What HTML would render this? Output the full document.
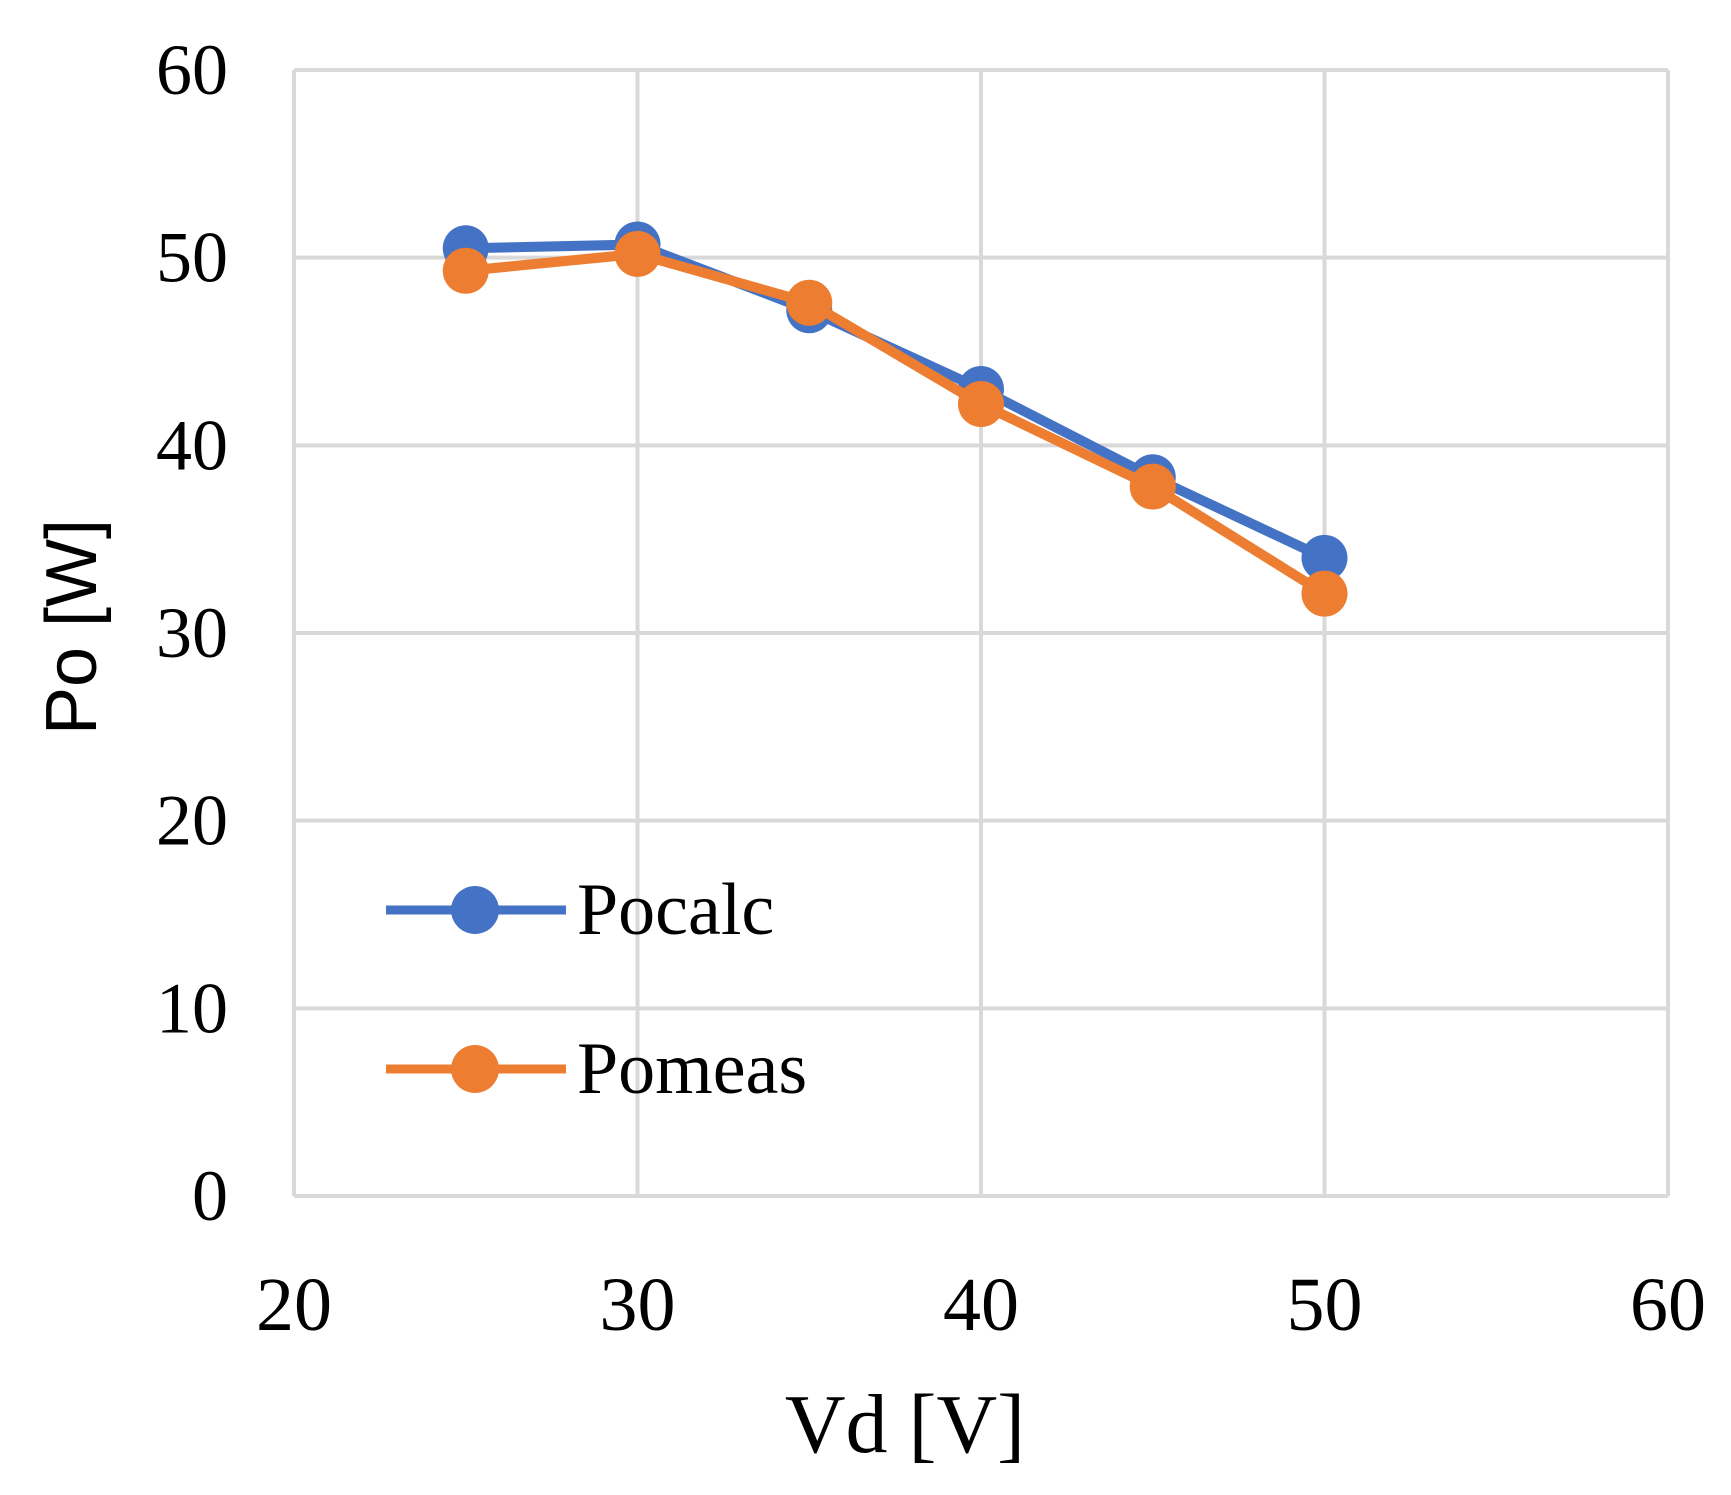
<!DOCTYPE html>
<html><head><meta charset="utf-8"><style>body{margin:0;background:#fff}</style></head>
<body>
<svg id="chart" width="1731" height="1495" xmlns="http://www.w3.org/2000/svg" style="display:block">
<g id="grid"></g><g id="series"></g>
<text x="905" y="1452" font-family="Liberation Serif, serif" font-size="84" text-anchor="middle">Vd [V]</text>
<text transform="translate(96,627) rotate(-90)" font-family="Liberation Sans, sans-serif" font-size="72" text-anchor="middle">Po [W]</text>
<g>
<line x1="386" y1="910" x2="566" y2="910" stroke="#4472c4" stroke-width="9"/>
<circle cx="475" cy="910" r="24" fill="#4472c4"/>
<text x="577" y="934" font-family="Liberation Serif, serif" font-size="74">Pocalc</text>
<line x1="386" y1="1069" x2="566" y2="1069" stroke="#ed7d31" stroke-width="9"/>
<circle cx="475" cy="1069" r="24" fill="#ed7d31"/>
<text x="577" y="1093" font-family="Liberation Serif, serif" font-size="74">Pomeas</text>
</g>
</svg>
<script>
const xVals=[25,30,35,40,45,50];
const pocalc=[50.5,50.7,47.2,43.0,38.3,34.0];
const pomeas=[49.3,50.2,47.6,42.2,37.8,32.1];
const xTicks=[20,30,40,50,60];
const yTicks=[0,10,20,30,40,50,60];
const NS="http://www.w3.org/2000/svg";
const L=294,R=1668,T=70,B=1196;
const sx=v=>L+(v-20)/40*(R-L);
const sy=v=>B-v/60*(B-T);
function mk(tag,attrs,parent){const e=document.createElementNS(NS,tag);for(const k in attrs)e.setAttribute(k,attrs[k]);parent.appendChild(e);return e;}
const grid=document.getElementById('grid');
xTicks.forEach(t=>{
 const l=mk('line',{x1:sx(t),x2:sx(t),y1:T,y2:B,stroke:'#d9d9d9','stroke-width':4},grid);
 
 
 const tx=mk('text',{x:sx(t),y:1330,'text-anchor':'middle','font-family':'Liberation Serif, serif','font-size':76},grid);
 tx.textContent=t;
 
 
});
yTicks.forEach(t=>{
 const l=mk('line',{x1:L,x2:R,y1:sy(t),y2:sy(t),stroke:'#d9d9d9','stroke-width':4},grid);
 
 
 const tx=mk('text',{x:228,y:sy(t)+24,'text-anchor':'end','font-family':'Liberation Serif, serif','font-size':72},grid);
 tx.textContent=t;
 
 
});
const ser=document.getElementById('series');
[[pocalc,'#4472c4','pocalc'],[pomeas,'#ed7d31','pomeas']].forEach(([d,c,n])=>{
 const p=mk('polyline',{points:d.map((v,i)=>sx(xVals[i])+','+sy(v)).join(' '),fill:'none',stroke:c,'stroke-width':10,'stroke-linejoin':'round'},ser);
 
 
 d.forEach((v,i)=>{
  const m=mk('circle',{cx:sx(xVals[i]),cy:sy(v),r:23,fill:c},ser);
  
  
 });
});
</script>
</body></html>
